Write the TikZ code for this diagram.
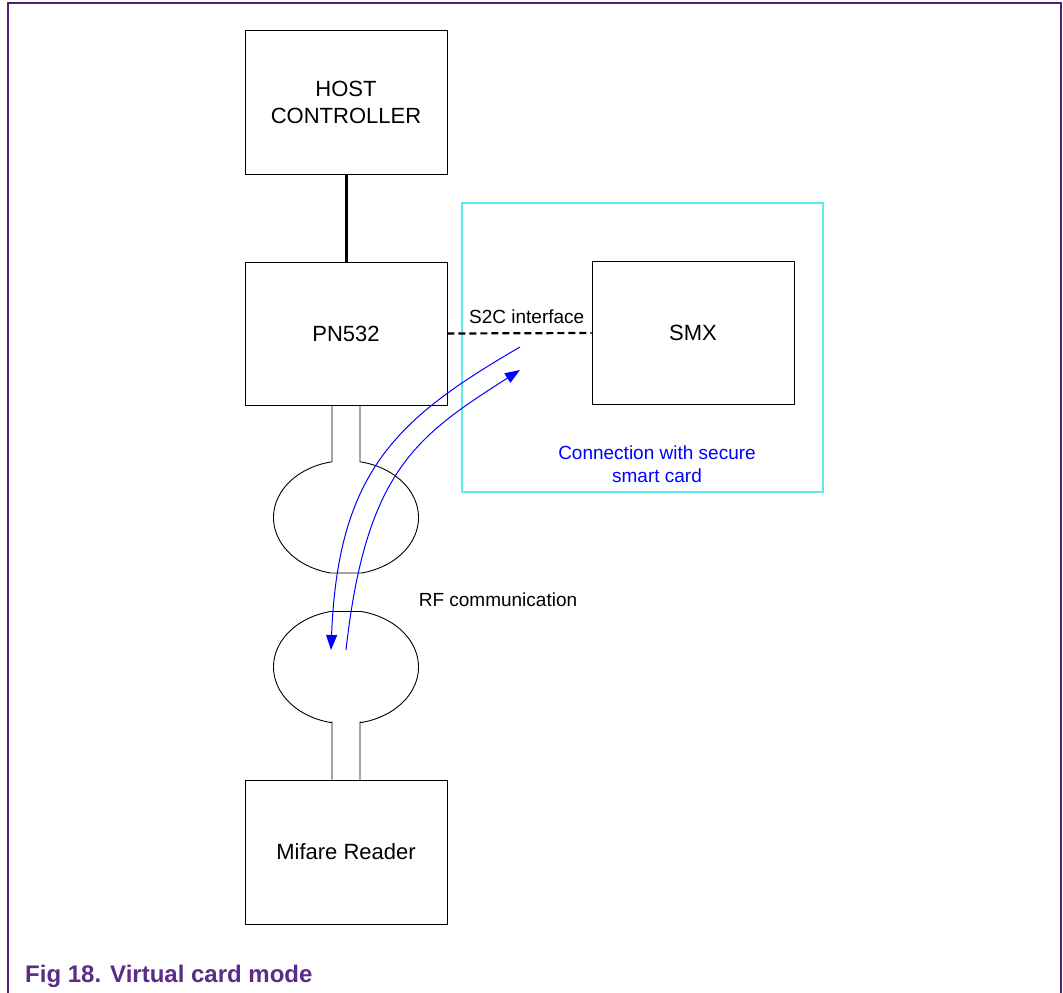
\documentclass[tikz,border=0pt]{standalone}
\usepackage{fontspec}
\setmainfont{Liberation Sans}
\usetikzlibrary{arrows.meta}
\definecolor{nxppurple}{HTML}{4E1F7E}
\definecolor{capcolor}{HTML}{5A2C88}
\definecolor{framecyan}{HTML}{5CEBEB}
\tikzset{
  block/.style={draw=black, line width=0.9pt, inner sep=0pt,
    minimum width=202pt, minimum height=144pt, align=center,
    font=\fontsize{22}{27}\selectfont},
  smalltext/.style={inner sep=0pt, font=\fontsize{19}{23}\selectfont},
  bluetext/.style={smalltext, text=blue, align=center},
  rfarrow/.style={draw=blue, line width=1pt, -{Triangle[length=15pt,width=11pt]}},
  antline/.style={draw=black, line width=0.9pt, line join=round},
}
\begin{document}
\begin{tikzpicture}[x=1pt, y=-1pt]
\useasboundingbox (0,0) rectangle (1063,993);
% outer frame (open at bottom)
\draw[nxppurple, line width=1.8pt] (8,993) -- (8,3) -- (1061,3) -- (1061,993);

% secure smart card frame
\node[draw=framecyan, line width=1.2pt, minimum width=361pt, minimum height=289pt, inner sep=0pt] (sc) at (642.5,347.5) {};

% blocks
\node[block] (host) at (346,102) {HOST\\CONTROLLER};
\node[block, minimum height=143pt] (pn) at (346,333.5) {PN532};
\node[block, minimum height=143pt] (smx) at (693,333) {SMX};
\node[block] (mif) at (346,852) {Mifare Reader};

% host -- PN532
\draw[line width=3pt] (host.south) -- (pn.north);
% S2C interface
\draw[line width=2.2pt, dash pattern=on 7pt off 4pt] (pn.east) -- (smx.west)
  node[smalltext, pos=0.55, above=8pt] (s2c) {S2C interface};

% antennas (upper: PN532 side, lower: reader side)
\coordinate (ant1) at (346,517.5);
\coordinate (ant2) at (346,667);
% upper antenna with its stems
\draw[antline] (pn.south -| 332,0) -- (332,462)
  -- plot[variable=\t, domain=257.7:102.3, samples=60] ({346+72.5*cos(\t)}, {517.5+56.8*sin(\t)})
  -- plot[variable=\t, domain=77.7:-77.7, samples=60] ({346+72.5*cos(\t)}, {517.5+56.8*sin(\t)})
  -- (360,462) -- (pn.south -| 360,0);
% lower antenna with its stems
\draw[antline] (mif.north -| 332,0) -- (332,722)
  -- plot[variable=\t, domain=102.3:257.7, samples=60] ({346+72.5*cos(\t)}, {667+56.8*sin(\t)})
  -- plot[variable=\t, domain=-77.7:77.7, samples=60] ({346+72.5*cos(\t)}, {667+56.8*sin(\t)})
  -- (360,722) -- (mif.north -| 360,0);

% RF arrows
\coordinate (r1s) at (520,347);
\coordinate (r1e) at (331,650);
\coordinate (r2s) at (346,650);
\coordinate (r2e) at (520,370);
\draw[rfarrow] (r1s) .. controls (398,418) and (338,470) .. (r1e);
\draw[rfarrow] (r2s) .. controls (366,470) and (417,436) .. (r2e);

% labels
\node[smalltext] (rf) at (498,600) {RF communication};
\node[bluetext] (conn) at (657,464.5) {Connection with secure\\smart card};

% caption
\node[anchor=base west, inner sep=0pt, text=capcolor, font=\fontsize{24}{28}\selectfont\bfseries] (cap) at (25,982) {Fig 18.\hspace{9pt}Virtual card mode};
\end{tikzpicture}
\end{document}
